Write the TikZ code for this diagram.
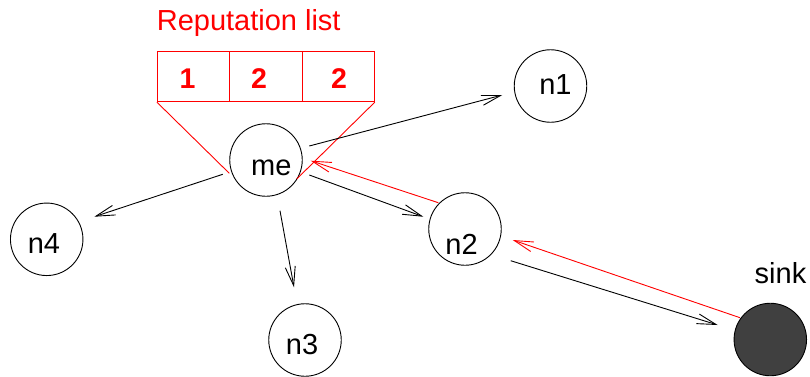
\documentclass[tikz,border=0pt]{standalone}
\usepackage{fontspec}
\setmainfont{Liberation Sans}
\usetikzlibrary{arrows.meta}
\definecolor{sinkgray}{RGB}{64,64,64}

\begin{document}
\begin{tikzpicture}[x=1pt, y=-1pt, line width=0.9pt,
  font=\fontsize{29}{34}\selectfont,
  peer/.style={circle, draw, inner sep=0pt, minimum size=72.5pt},
  cell/.style={draw=red, inner sep=0pt, minimum width=72.33pt, minimum height=50pt},
  rank/.style={text=red, font=\fontsize{28.5}{33}\selectfont\bfseries, inner sep=0pt},
  every label/.style={inner sep=0pt},
  arr/.style={-{Straight Barb[length=19pt,width=10pt]}},
  link/.style={red}
]
\useasboundingbox (0,0) rectangle (810,376);

% reputation table held by "me"
\node[text=red, anchor=base, inner sep=0pt] (title) at (248.7,30.7) {Reputation list};
\node[cell, label={[rank, xshift=-6pt, yshift=-2.3pt]center:1}] (c1) at (193.5,76.7) {};
\node[cell, label={[rank, xshift=-6.8pt, yshift=-2.3pt]center:2}] (c2) at (265.8,76.7) {};
\node[cell, label={[rank, xshift=0.8pt, yshift=-2.3pt]center:2}] (c3) at (338.2,76.7) {};

% peers
\node[peer, label={[xshift=5.3pt, yshift=-7.5pt]center:me}] (me) at (266,160) {};
\node[peer, label={[xshift=4.9pt, yshift=1pt]center:n1}] (n1) at (550.5,86) {};
\node[peer, label={[xshift=-3.4pt, yshift=-15pt]center:n2}] (n2) at (465,229) {};
\node[peer, label={[xshift=-2.9pt, yshift=-4.6pt]center:n3}] (n3) at (305,340) {};
\node[peer, label={[xshift=-2.8pt, yshift=-4.3pt]center:n4}] (n4) at (46.7,239.3) {};
\node[peer, fill=sinkgray, label={[xshift=10.2pt, yshift=66.6pt]center:sink}] (sink) at (770.3,339.5) {};

% funnel from the table down to its owner
\draw[link] (c1.south west) -- ([shift={(-36.7,13.3)}]me.center);
\draw[link] (c3.south east) -- ([shift={(30.7,19)}]me.center);

% outgoing messages
\draw[arr] ([shift={(43.3,-14)}]me.center) -- ([shift={(-48.2,9)}]n1.center);
\draw[arr] ([shift={(-43.3,14.3)}]me.center) -- ([shift={(47.6,-22.6)}]n4.center);
\draw[arr] ([shift={(14,50.7)}]me.center) -- ([shift={(-11,-52.7)}]n3.center);
\draw[arr] ([shift={(43.3,15)}]me.center) -- ([shift={(-41.7,-12.3)}]n2.center);
\draw[arr] ([shift={(45.7,31.7)}]n2.center) -- ([shift={(-52.6,-14.5)}]sink.center);

% acknowledgements travelling back
\draw[arr, red] ([shift={(-30.3,-21.8)}]sink.center) -- ([shift={(47.7,11)}]n2.center);
\draw[arr, red] ([shift={(-26.7,-26.3)}]n2.center) -- ([shift={(44.7,0.7)}]me.center);
\end{tikzpicture}
\end{document}
